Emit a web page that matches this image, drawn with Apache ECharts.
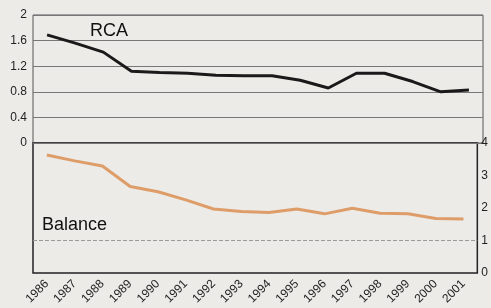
<!DOCTYPE html>
<html>
<head>
<meta charset="utf-8">
<script src="https://cdn.jsdelivr.net/npm/echarts@6/dist/echarts.min.js"></script>
<style>
  html, body { margin: 0; padding: 0; background: #ecebe8; }
  #chart { width: 491px; height: 308px; }
</style>
</head>
<body>
<div id="chart"></div>
<script>
const years = ['1986', '1987', '1988', '1989', '1990', '1991', '1992', '1993',
  '1994', '1995', '1996', '1997', '1998', '1999', '2000', '2001']
const rca = [1.69, 1.56, 1.42, 1.12, 1.1, 1.09, 1.06, 1.05, 1.05, 0.98, 0.86, 1.09, 1.09, 0.96, 0.8, 0.83]
const balance = [3.63, 3.45, 3.29, 2.66, 2.5, 2.25, 1.97, 1.89, 1.86, 1.97, 1.82, 1.99, 1.84, 1.82, 1.68, 1.66]
const balanceRef = 1

const chart = echarts.init(document.getElementById('chart'))
const font = 'Liberation Sans, Arial, sans-serif'

const option = {
  backgroundColor: '#ecebe8',
  animation: false,
  grid: [
    // 上面 RCA
    { left: 33, right: 8, top: 15, height: 128, show: true, borderColor: '#555', borderWidth: 1 },
    // 下面 Balance
    { left: 33, right: 8, top: 143, height: 130, show: true, borderColor: '#222', borderWidth: 1.5 }
  ],
  xAxis: [
    {
      gridIndex: 0,
      type: 'category',
      data: years,
      axisLine: { show: false },
      axisTick: { show: false },
      axisLabel: { show: false }
    },
    {
      gridIndex: 1,
      type: 'category',
      data: years,
      axisLine: { show: false },
      axisTick: { show: false },
      axisLabel: { rotate: 45, fontSize: 12, color: '#222', fontFamily: font, margin: 9 }
    }
  ],
  yAxis: [
    {
      gridIndex: 0,
      type: 'value',
      min: 0,
      max: 2,
      interval: 0.4,
      axisLine: { show: false },
      axisTick: { show: false },
      axisLabel: { fontSize: 12, color: '#222', fontFamily: font, margin: 6 },
      splitLine: { lineStyle: { color: '#777', width: 1 } }
    },
    {
      gridIndex: 1,
      type: 'value',
      position: 'right',
      min: 0,
      max: 4,
      interval: 1,
      axisLine: { show: false },
      axisTick: { show: false },
      axisLabel: { fontSize: 12, color: '#222', fontFamily: font, margin: 4 },
      splitLine: { show: false }
    }
  ],
  graphic: [
    { type: 'text', left: 90, top: 22, style: { text: 'RCA', font: '18px ' + font, fill: '#111' } },
    { type: 'text', left: 42, top: 216, style: { text: 'Balance', font: '18px ' + font, fill: '#111' } }
  ],
  series: [
    {
      name: 'RCA',
      type: 'line',
      xAxisIndex: 0,
      yAxisIndex: 0,
      data: rca,
      symbol: 'none',
      lineStyle: { color: '#1a1a1a', width: 3 }
    },
    {
      name: 'Balance',
      type: 'line',
      xAxisIndex: 1,
      yAxisIndex: 1,
      data: balance,
      symbol: 'none',
      lineStyle: { color: '#de9d68', width: 3 },
      markLine: {
        silent: true,
        symbol: 'none',
        label: { show: false },
        lineStyle: { color: '#999', type: 'dashed', width: 1 },
        data: [{ yAxis: balanceRef }]
      }
    }
  ]
}
chart.setOption(option)
</script>
</body>
</html>
